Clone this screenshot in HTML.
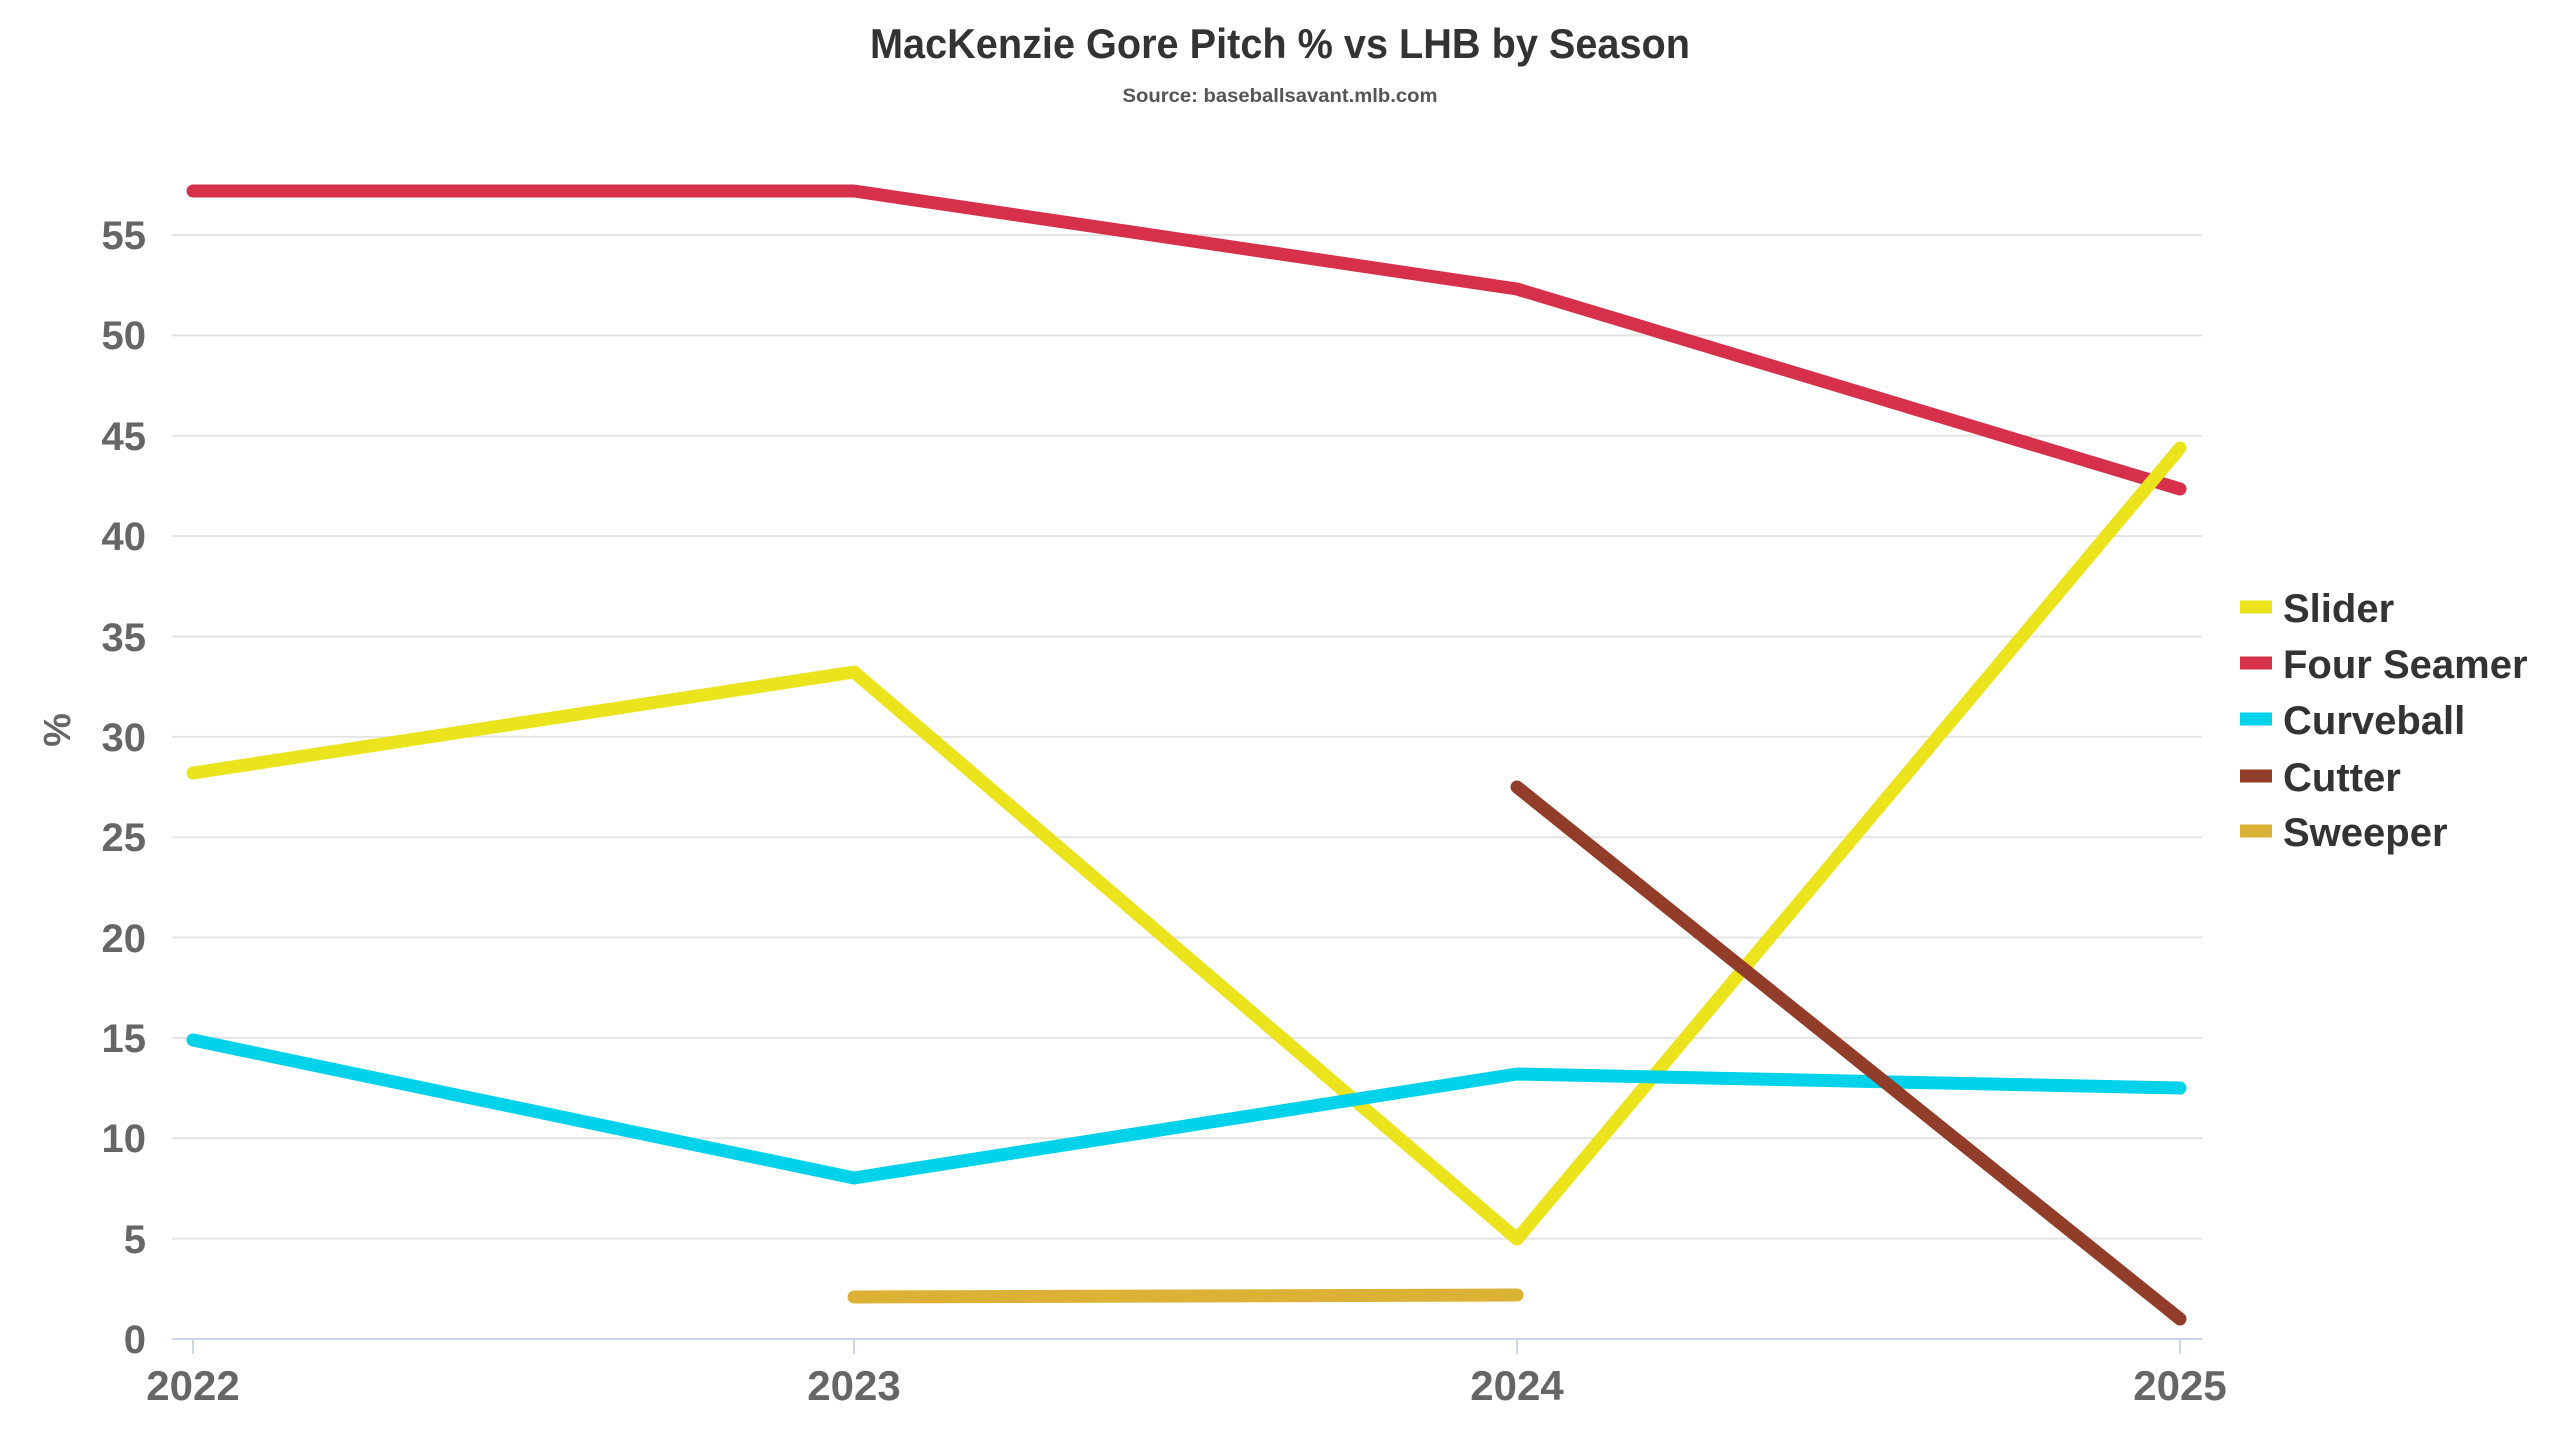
<!DOCTYPE html>
<html><head><meta charset="utf-8"><style>
html,body{margin:0;padding:0;background:#fff;}
svg{display:block;}
text{font-family:"Liberation Sans",sans-serif;font-weight:bold;}
</style></head><body>
<svg width="2560" height="1440" viewBox="0 0 2560 1440" xmlns="http://www.w3.org/2000/svg">
<rect width="2560" height="1440" fill="#fff"/>
<text x="1280" y="58" text-anchor="middle" font-size="42" fill="#333" textLength="820" lengthAdjust="spacingAndGlyphs">MacKenzie Gore Pitch % vs LHB by Season</text>
<text x="1280" y="102" text-anchor="middle" font-size="19" fill="#555" textLength="315" lengthAdjust="spacingAndGlyphs">Source: baseballsavant.mlb.com</text>
<g stroke="#e3e3e3" stroke-width="2">
<line x1="172" x2="2202" y1="1238.6" y2="1238.6"/>
<line x1="172" x2="2202" y1="1138.3" y2="1138.3"/>
<line x1="172" x2="2202" y1="1037.9" y2="1037.9"/>
<line x1="172" x2="2202" y1="937.5" y2="937.5"/>
<line x1="172" x2="2202" y1="837.2" y2="837.2"/>
<line x1="172" x2="2202" y1="736.8" y2="736.8"/>
<line x1="172" x2="2202" y1="636.5" y2="636.5"/>
<line x1="172" x2="2202" y1="536.1" y2="536.1"/>
<line x1="172" x2="2202" y1="435.7" y2="435.7"/>
<line x1="172" x2="2202" y1="335.4" y2="335.4"/>
<line x1="172" x2="2202" y1="235" y2="235"/>
</g>
<line x1="172" x2="2202" y1="1339" y2="1339" stroke="#ccd6eb" stroke-width="2"/>
<g stroke="#ccd6eb" stroke-width="2">
<line x1="193" x2="193" y1="1339" y2="1354"/><line x1="854" x2="854" y1="1339" y2="1354"/>
<line x1="1517" x2="1517" y1="1339" y2="1354"/><line x1="2180" x2="2180" y1="1339" y2="1354"/>
</g>
<g font-size="40" fill="#666" text-anchor="end">
<text x="146" y="1353">0</text><text x="146" y="1253">5</text><text x="146" y="1152">10</text>
<text x="146" y="1052">15</text><text x="146" y="952">20</text><text x="146" y="851">25</text>
<text x="146" y="751">30</text><text x="146" y="651">35</text><text x="146" y="550">40</text>
<text x="146" y="450">45</text><text x="146" y="349">50</text><text x="146" y="249">55</text>
</g>
<text transform="translate(70,730) rotate(-90)" text-anchor="middle" font-size="38" fill="#666">%</text>
<g font-size="42" fill="#666" text-anchor="middle">
<text x="193" y="1400">2022</text><text x="854" y="1400">2023</text><text x="1517" y="1400">2024</text><text x="2180" y="1400">2025</text>
</g>
<g fill="none" stroke-width="13" stroke-linejoin="round" stroke-linecap="round">
<polyline stroke="#d6304a" points="193,191 854,191 1517,289 2180,489"/>
<polyline stroke="#ebe31b" points="193,773 854,672 1517,1239 2180,448"/>
<polyline stroke="#00d2ea" points="193,1040 854,1178 1517,1074 2180,1088"/>
<polyline stroke="#923d2a" points="1517,787 2180,1319"/>
<polyline stroke="#dcb236" points="854,1297 1517,1295"/>
</g>
<g stroke-width="13">
<line x1="2240" x2="2272" y1="607" y2="607" stroke="#ebe31b"/>
<line x1="2240" x2="2272" y1="663" y2="663" stroke="#d6304a"/>
<line x1="2240" x2="2272" y1="719" y2="719" stroke="#00d2ea"/>
<line x1="2240" x2="2272" y1="776" y2="776" stroke="#923d2a"/>
<line x1="2240" x2="2272" y1="831" y2="831" stroke="#dcb236"/>
</g>
<g font-size="40" fill="#333">
<text x="2283" y="622">Slider</text>
<text x="2283" y="678">Four Seamer</text>
<text x="2283" y="734">Curveball</text>
<text x="2283" y="791">Cutter</text>
<text x="2283" y="846">Sweeper</text>
</g>
</svg>
</body></html>
